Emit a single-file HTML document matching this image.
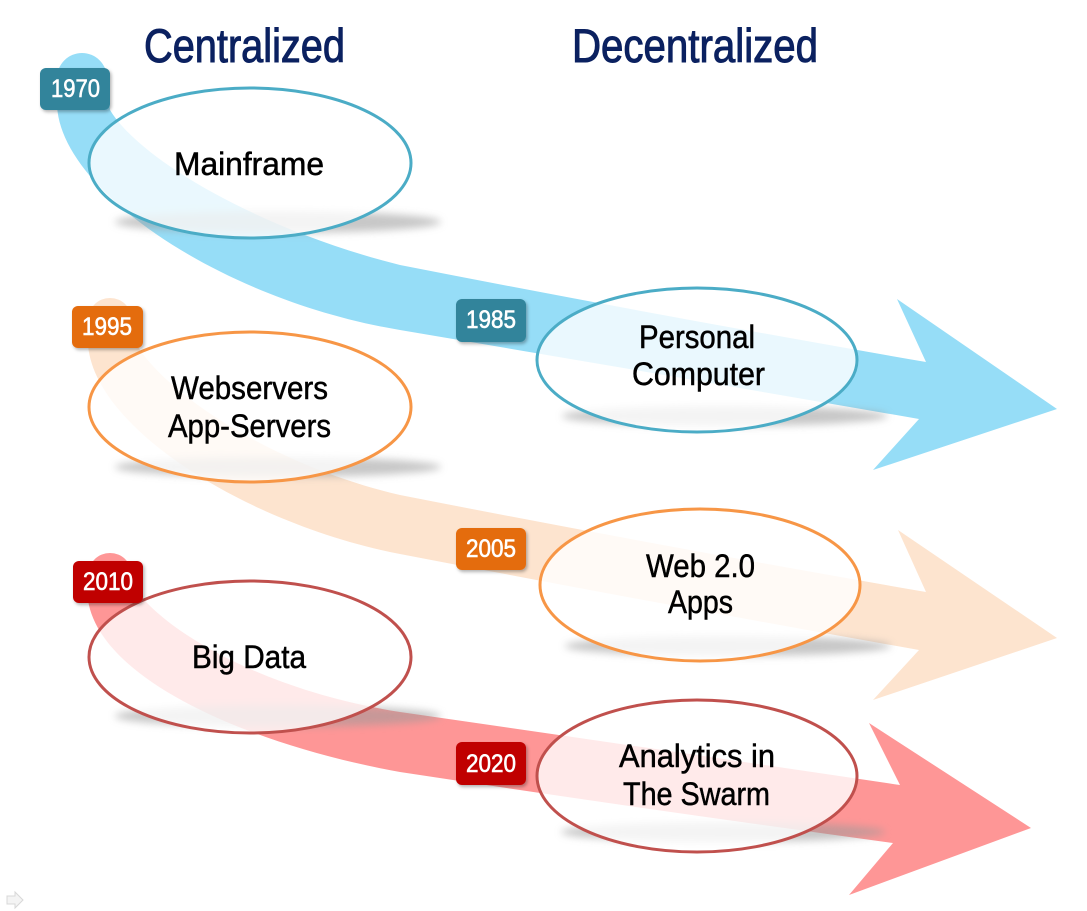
<!DOCTYPE html>
<html><head><meta charset="utf-8"><style>
html,body{margin:0;padding:0;background:#fff;}
svg{display:block;}
text{font-family:"Liberation Sans",sans-serif;}
</style></head><body>
<svg width="1087" height="911" viewBox="0 0 1087 911" xmlns="http://www.w3.org/2000/svg">
<defs>
<filter id="sh" x="-20%" y="-100%" width="140%" height="300%"><feGaussianBlur stdDeviation="4"/></filter>
<filter id="bs" x="-20%" y="-20%" width="150%" height="160%"><feDropShadow dx="1.5" dy="2" stdDeviation="1.5" flood-color="#000" flood-opacity="0.3"/></filter>
</defs>

<!-- bands -->
<path fill="#96ddf7" d="M57,78 A25,25 0 0 1 107,78 L110,110 C140,160 260,230 400,265 Q660,316 926,362 L897,299 L1057,409 L873,470 L919,419 Q660,374 400,330 C220,300 60,190 57,105 Z"/>
<path fill="#fde4cf" d="M88,320 A22,22 0 0 1 132,320 L134,340 C160,390 270,465 400,495 Q660,546 926,592 L898,530 L1057,638 L873,700 L919,650 Q660,604 400,554 C250,525 95,430 88,345 Z"/>
<path fill="#fe9696" d="M88,575 A22,22 0 0 1 132,575 L136,590 C165,630 260,690 400,712 Q650,748 900,785 L869,723 L1031,828 L849,895 L893,843 Q650,810 400,772 C250,745 100,680 88,600 Z"/>

<!-- shadows -->
<g fill="#9a9a9a" opacity="0.55" filter="url(#sh)">
<ellipse cx="278" cy="222" rx="163" ry="11"/>
<ellipse cx="725" cy="416" rx="163" ry="10"/>
<ellipse cx="278" cy="467" rx="163" ry="10"/>
<ellipse cx="728" cy="646" rx="163" ry="10"/>
<ellipse cx="278" cy="716" rx="163" ry="11"/>
<ellipse cx="723" cy="832" rx="162" ry="10"/>
</g>

<!-- ellipses -->
<g fill="#fff" fill-opacity="0.8" stroke-width="3">
<ellipse cx="250" cy="163" rx="161" ry="75" stroke="#4bacc6"/>
<ellipse cx="697" cy="360" rx="160" ry="72" stroke="#4bacc6"/>
<ellipse cx="250" cy="407" rx="161" ry="75" stroke="#f79646"/>
<ellipse cx="700" cy="585" rx="160" ry="76" stroke="#f79646"/>
<ellipse cx="250" cy="657" rx="161" ry="76" stroke="#c0504d"/>
<ellipse cx="697" cy="776" rx="160" ry="76" stroke="#c0504d"/>
</g>

<!-- titles -->
<g fill="#0b2160" stroke="#0b2160" stroke-width="1" font-size="47">
<text x="144" y="62" textLength="201" lengthAdjust="spacingAndGlyphs">Centralized</text>
<text x="572" y="62" textLength="246" lengthAdjust="spacingAndGlyphs">Decentralized</text>
</g>

<!-- ellipse labels -->
<g fill="#000" stroke="#000" stroke-width="0.5" font-size="32">
<text x="174" y="175" textLength="150" lengthAdjust="spacingAndGlyphs">Mainframe</text>
<text x="639" y="348" textLength="116" lengthAdjust="spacingAndGlyphs">Personal</text>
<text x="632" y="385" textLength="133" lengthAdjust="spacingAndGlyphs">Computer</text>
<text x="171" y="399" textLength="157" lengthAdjust="spacingAndGlyphs">Webservers</text>
<text x="168" y="437" textLength="163" lengthAdjust="spacingAndGlyphs">App-Servers</text>
<text x="646" y="577" textLength="109" lengthAdjust="spacingAndGlyphs">Web 2.0</text>
<text x="668" y="613" textLength="65" lengthAdjust="spacingAndGlyphs">Apps</text>
<text x="192" y="668" textLength="114" lengthAdjust="spacingAndGlyphs">Big Data</text>
<text x="619" y="767" textLength="156" lengthAdjust="spacingAndGlyphs">Analytics in</text>
<text x="623" y="805" textLength="147" lengthAdjust="spacingAndGlyphs">The Swarm</text>
</g>

<!-- badges -->
<g filter="url(#bs)">
<rect x="40" y="68" width="70" height="42" rx="6" fill="#31849b"/>
<rect x="456" y="299" width="70" height="43" rx="6" fill="#31849b"/>
<rect x="72" y="306" width="71" height="42" rx="6" fill="#e46c0a"/>
<rect x="456" y="528" width="70" height="42" rx="6" fill="#e46c0a"/>
<rect x="73" y="561" width="70" height="42" rx="6" fill="#c00000"/>
<rect x="456" y="742" width="70" height="43" rx="6" fill="#c00000"/>
</g>
<g fill="#fff" stroke="#fff" stroke-width="0.6" font-size="25">
<text x="51" y="97" textLength="49" lengthAdjust="spacingAndGlyphs">1970</text>
<text x="466" y="328" textLength="50" lengthAdjust="spacingAndGlyphs">1985</text>
<text x="82" y="335" textLength="50" lengthAdjust="spacingAndGlyphs">1995</text>
<text x="466" y="557" textLength="50" lengthAdjust="spacingAndGlyphs">2005</text>
<text x="83" y="590" textLength="50" lengthAdjust="spacingAndGlyphs">2010</text>
<text x="466" y="772" textLength="50" lengthAdjust="spacingAndGlyphs">2020</text>
</g>

<!-- small corner arrow -->
<path d="M7,896 L15,896 L15,892 L23,900 L15,908 L15,904 L7,904 Z" fill="#f4f4f4" stroke="#d8d8d8" stroke-width="1"/>
</svg>
</body></html>
